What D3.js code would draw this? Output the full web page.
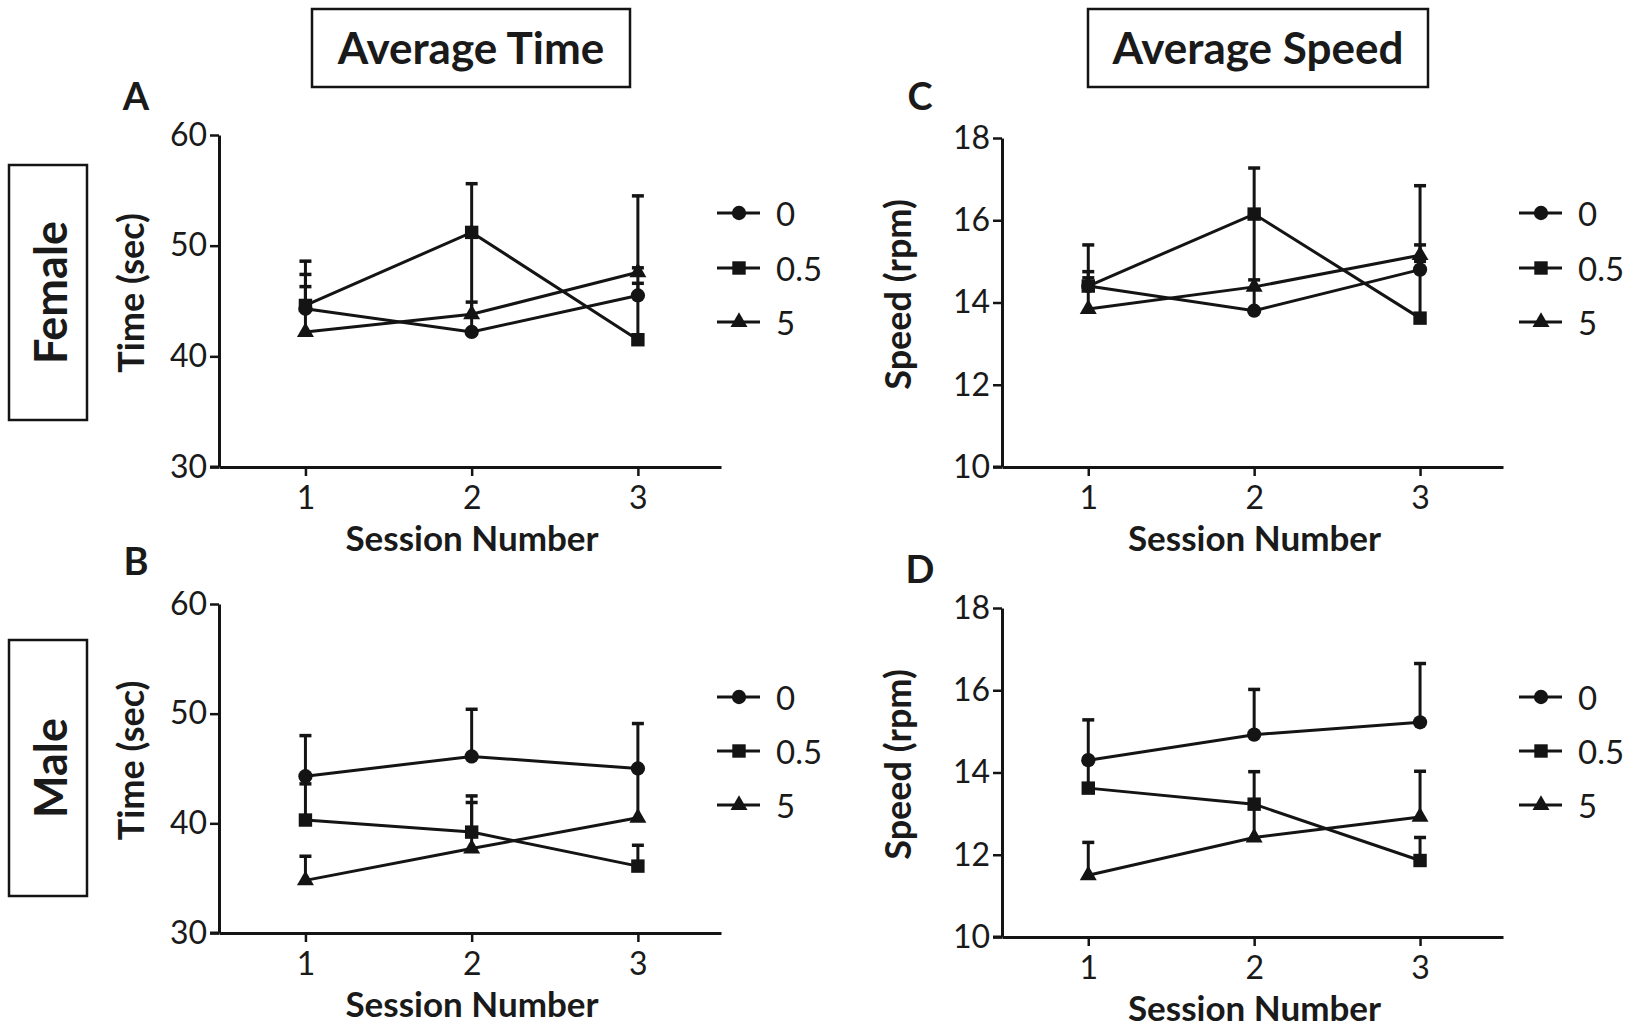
<!DOCTYPE html>
<html>
<head>
<meta charset="utf-8">
<script src="https://cdn.jsdelivr.net/npm/d3@7/dist/d3.min.js"></script>
<style>
  html, body { margin: 0; padding: 0; background: #fff; }
  svg { display: block; }
  text { font-family: Lato, "Open Sans", sans-serif; fill: #1a1a1a; }
</style>
</head>
<body>
<svg id="chart" width="1629" height="1028"></svg>
<script>
// ---------- data ----------
const sessions = [1, 2, 3];
const groups = ["0", "0.5", "5"];
const groupShapes = ["circle", "square", "triangle"];

// Panel A: Female, Average Time (sec)
const femaleTime_0   = [44.3, 42.2, 45.5];
const femaleTime_05  = [44.6, 51.2, 41.5];
const femaleTime_5   = [42.2, 43.8, 47.6];
const femaleTimeSem_0  = [3.1, 9.0, 1.1];
const femaleTimeSem_05 = [4.0, 4.4, 13.0];
const femaleTimeSem_5  = [4.1, 1.1, 0.4];

// Panel B: Male, Average Time (sec)
const maleTime_0   = [44.3, 46.1, 45.0];
const maleTime_05  = [40.3, 39.2, 36.1];
const maleTime_5   = [34.8, 37.7, 40.5];
const maleTimeSem_0  = [3.7, 4.3, 4.1];
const maleTimeSem_05 = [3.3, 3.3, 1.9];
const maleTimeSem_5  = [2.2, 4.2, 4.5];

// Panel C: Female, Average Speed (rpm)
const femaleSpeed_0   = [14.4, 13.8, 14.8];
const femaleSpeed_05  = [14.4, 16.15, 13.62];
const femaleSpeed_5   = [13.84, 14.38, 15.15];
const femaleSpeedSem_0  = [0.2, 2.3, 0.2];
const femaleSpeedSem_05 = [1.0, 1.12, 3.22];
const femaleSpeedSem_5  = [0.91, 0.17, 0.25];

// Panel D: Male, Average Speed (rpm)
const maleSpeed_0   = [14.3, 14.92, 15.22];
const maleSpeed_05  = [13.62, 13.23, 11.86];
const maleSpeed_5   = [11.5, 12.42, 12.92];
const maleSpeedSem_0  = [0.98, 1.1, 1.43];
const maleSpeedSem_05 = [0.68, 0.79, 0.56];
const maleSpeedSem_5  = [0.8, 0.78, 1.11];

const timeTicks = [30, 40, 50, 60];
const speedTicks = [10, 12, 14, 16, 18];
const sessionTicks = [1, 2, 3];

const columnTitles = ["Average Time", "Average Speed"];
const rowTitles = ["Female", "Male"];
const panelLetters = ["A", "B", "C", "D"];
const xTitle = "Session Number";
const yTitles = ["Time (sec)", "Speed (rpm)"];

// ---------- drawing ----------
const svg = d3.select("#chart");
const INK = "#141414";

function markerPath(shape) {
  if (shape === "circle") return d3.symbol().type(d3.symbolCircle).size(160)();
  if (shape === "square") return d3.symbol().type(d3.symbolSquare).size(180)();
  return d3.symbol().type(d3.symbolTriangle).size(125)();
}

function drawPanel(p) {
  const x = d3.scaleLinear().domain([0.48, 3.5]).range([p.left, p.right]);
  const y = d3.scaleLinear().domain(p.yDomain).range([p.bottom, p.top]);
  const g = svg.append("g");

  // axes
  const yAxis = d3.axisLeft(y).tickValues(p.yTicks).tickFormat(d3.format("d")).tickSize(9).tickPadding(3).tickSizeOuter(0);
  const xAxis = d3.axisBottom(x).tickValues(sessionTicks).tickFormat(d3.format("d")).tickSize(9).tickPadding(10).tickSizeOuter(0);
  const gy = g.append("g").attr("transform", `translate(${p.left},0)`).call(yAxis);
  const gx = g.append("g").attr("transform", `translate(0,${p.bottom})`).call(xAxis);
  [gx, gy].forEach(a => {
    a.select(".domain").attr("stroke", INK).attr("stroke-width", 3);
    a.selectAll(".tick line").attr("stroke", INK).attr("stroke-width", 2.5);
    a.selectAll(".tick text").style("font-size", "32px").style("font-family", "Lato, sans-serif").attr("fill", "#2a2a2a");
  });
  // extend x axis line to meet y axis tick
  g.append("line").attr("x1", p.left - 9).attr("x2", p.left).attr("y1", p.bottom).attr("y2", p.bottom)
    .attr("stroke", INK).attr("stroke-width", 3);

  // axis titles
  g.append("text").attr("x", (p.left + p.right) / 2 + 2).attr("y", p.bottom + 84)
    .attr("text-anchor", "middle").style("font-size", "35px").style("font-weight", "bold").text(xTitle);
  g.append("text").attr("transform", `translate(${p.yTitleX},${(p.top + p.bottom) / 2 - 8}) rotate(-90)`)
    .attr("text-anchor", "middle").attr("dominant-baseline", "middle")
    .style("font-size", "36px").style("font-weight", "bold").text(p.yTitle);

  // panel letter
  g.append("text").attr("x", p.letterX).attr("y", p.letterY).attr("text-anchor", "middle")
    .style("font-size", "38px").style("font-weight", "bold").text(p.letter);

  const line = d3.line().x((d, i) => x(sessions[i])).y(d => y(d));

  // lines
  p.means.forEach(m => {
    g.append("path").attr("d", line(m)).attr("fill", "none").attr("stroke", INK).attr("stroke-width", 3);
  });
  // error bars (upper only)
  p.means.forEach((m, k) => {
    m.forEach((v, i) => {
      const cx = x(sessions[i]);
      const top = y(v + p.sems[k][i]);
      g.append("line").attr("x1", cx).attr("x2", cx).attr("y1", y(v)).attr("y2", top)
        .attr("stroke", INK).attr("stroke-width", 3);
      g.append("line").attr("x1", cx - 6).attr("x2", cx + 6).attr("y1", top).attr("y2", top)
        .attr("stroke", INK).attr("stroke-width", 3.5);
    });
  });
  // markers
  p.means.forEach((m, k) => {
    m.forEach((v, i) => {
      g.append("path").attr("d", markerPath(groupShapes[k]))
        .attr("transform", `translate(${x(sessions[i])},${y(v)})`).attr("fill", INK);
    });
  });

  // legend
  groups.forEach((name, k) => {
    const ly = p.legendY[k];
    g.append("line").attr("x1", p.legendX).attr("x2", p.legendX + 43).attr("y1", ly).attr("y2", ly)
      .attr("stroke", INK).attr("stroke-width", 3);
    g.append("path").attr("d", markerPath(groupShapes[k]))
      .attr("transform", `translate(${p.legendX + 22},${ly})`).attr("fill", INK);
    g.append("text").attr("x", p.legendX + 59).attr("y", ly).attr("dominant-baseline", "central")
      .style("font-size", "33px").attr("fill", "#2a2a2a").text(name);
  });
}

const panels = [
  { letter: panelLetters[0], left: 219, right: 721, top: 135, bottom: 467, yDomain: [30, 60], yTicks: timeTicks,
    yTitle: yTitles[0], yTitleX: 135, letterX: 136, letterY: 110, legendX: 717, legendY: [213, 268, 322],
    means: [femaleTime_0, femaleTime_05, femaleTime_5], sems: [femaleTimeSem_0, femaleTimeSem_05, femaleTimeSem_5] },
  { letter: panelLetters[1], left: 219, right: 721, top: 604, bottom: 933, yDomain: [30, 60], yTicks: timeTicks,
    yTitle: yTitles[0], yTitleX: 135, letterX: 136, letterY: 575, legendX: 717, legendY: [697, 751, 805],
    means: [maleTime_0, maleTime_05, maleTime_5], sems: [maleTimeSem_0, maleTimeSem_05, maleTimeSem_5] },
  { letter: panelLetters[2], left: 1002, right: 1503, top: 138, bottom: 467, yDomain: [10, 18], yTicks: speedTicks,
    yTitle: yTitles[1], yTitleX: 902, letterX: 920, letterY: 110, legendX: 1519, legendY: [213, 268, 322],
    means: [femaleSpeed_0, femaleSpeed_05, femaleSpeed_5], sems: [femaleSpeedSem_0, femaleSpeedSem_05, femaleSpeedSem_5] },
  { letter: panelLetters[3], left: 1002, right: 1503, top: 608, bottom: 937, yDomain: [10, 18], yTicks: speedTicks,
    yTitle: yTitles[1], yTitleX: 902, letterX: 920, letterY: 583, legendX: 1519, legendY: [697, 751, 805],
    means: [maleSpeed_0, maleSpeed_05, maleSpeed_5], sems: [maleSpeedSem_0, maleSpeedSem_05, maleSpeedSem_5] }
];
panels.forEach(drawPanel);

// column title boxes
const colBoxes = [{ x: 312, w: 318, title: columnTitles[0] }, { x: 1088, w: 340, title: columnTitles[1] }];
colBoxes.forEach(b => {
  svg.append("rect").attr("x", b.x).attr("y", 9).attr("width", b.w).attr("height", 78)
    .attr("fill", "none").attr("stroke", INK).attr("stroke-width", 2.5);
  svg.append("text").attr("x", b.x + b.w / 2).attr("y", 47).attr("text-anchor", "middle")
    .attr("dominant-baseline", "central").style("font-size", "44px").style("font-weight", "bold").text(b.title);
});
// row title boxes
const rowBoxes = [{ y: 165, h: 255, title: rowTitles[0] }, { y: 640, h: 256, title: rowTitles[1] }];
rowBoxes.forEach(b => {
  svg.append("rect").attr("x", 9).attr("y", b.y).attr("width", 78).attr("height", b.h)
    .attr("fill", "none").attr("stroke", INK).attr("stroke-width", 2.5);
  svg.append("text").attr("transform", `translate(50,${b.y + b.h / 2}) rotate(-90)`).attr("text-anchor", "middle")
    .attr("dominant-baseline", "central").style("font-size", "45px").style("font-weight", "bold").text(b.title);
});
</script>
</body>
</html>
